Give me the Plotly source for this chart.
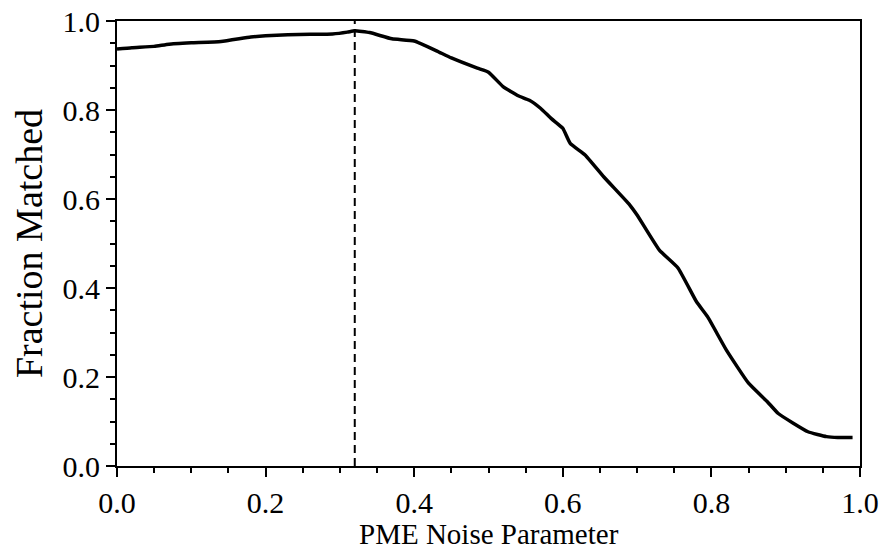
import plotly.graph_objects as go

noise = [0, 0.02, 0.05, 0.07, 0.1, 0.14, 0.18, 0.2, 0.23, 0.26, 0.29, 0.31, 0.32, 0.34, 0.37, 0.40,
         0.43, 0.45, 0.485, 0.50, 0.52, 0.54, 0.555, 0.57, 0.585, 0.60, 0.61, 0.63, 0.655, 0.69, 0.70,
         0.73, 0.755, 0.78, 0.795, 0.82, 0.85, 0.875, 0.89, 0.93, 0.955, 0.97, 0.99]
fraction = [0.937, 0.940, 0.943, 0.948, 0.951, 0.954, 0.964, 0.967, 0.969, 0.970, 0.971, 0.975, 0.978,
            0.974, 0.960, 0.955, 0.933, 0.917, 0.894, 0.885, 0.852, 0.832, 0.822, 0.804, 0.780, 0.759,
            0.725, 0.699, 0.650, 0.587, 0.564, 0.485, 0.445, 0.369, 0.335, 0.261, 0.186, 0.145, 0.118,
            0.077, 0.066, 0.064, 0.064]
best_noise = 0.32
x_title = "PME Noise Parameter"
y_title = "Fraction Matched"

fig = go.Figure()
fig.add_trace(go.Scatter(x=noise, y=fraction, mode="lines",
                         line=dict(color="black", width=3.5, shape="spline", smoothing=0.4),
                         showlegend=False))
fig.add_trace(go.Scatter(x=[best_noise, best_noise], y=[0, 1], mode="lines",
                         line=dict(color="black", width=2, dash="8px,5px"), showlegend=False))

font = "Liberation Serif, Times New Roman, serif"
axis_common = dict(showline=True, linecolor="black", linewidth=2, mirror=True,
                   ticks="outside", ticklen=9, tickwidth=2, tickcolor="black",
                   showgrid=False, zeroline=False, automargin=False,
                   tickfont=dict(family=font, size=30, color="black"),
                   minor=dict(ticks="outside", ticklen=5, tickwidth=1.5, tickcolor="black", dtick=0.05))
fig.update_xaxes(range=[0, 1], dtick=0.2, tickformat=".1f", **axis_common)
fig.update_yaxes(range=[0, 1], dtick=0.2, tickformat=".1f",
                 title=dict(text=y_title, font=dict(family=font, size=38, color="black"), standoff=8),
                 **axis_common)
fig.add_annotation(text=x_title, xref="paper", yref="paper", x=0.5, y=-0.153,
                   xanchor="center", yanchor="middle", showarrow=False, borderpad=0,
                   font=dict(family=font, size=29, color="black"))
fig.update_layout(width=883, height=550, margin=dict(l=117, r=23, t=21, b=84),
                  plot_bgcolor="white", paper_bgcolor="white")
fig.write_html("out.html")
